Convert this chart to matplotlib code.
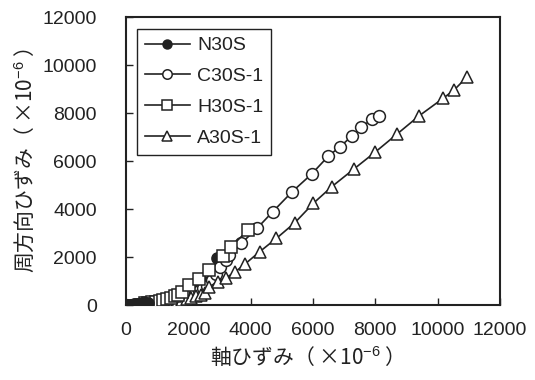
import matplotlib
matplotlib.use("Agg")
import matplotlib.pyplot as plt
from matplotlib import font_manager as fm

names = {f.name for f in fm.fontManager.ttflist}
NUM_FONT = "Liberation Sans Narrow" if "Liberation Sans Narrow" in names else "Liberation Sans"
JP_FONT = "Noto Sans CJK JP"

plt.rcParams["mathtext.fontset"] = "custom"
plt.rcParams["mathtext.rm"] = "Liberation Sans"
plt.rcParams["mathtext.it"] = "Liberation Sans"
plt.rcParams["mathtext.bf"] = "Liberation Sans"

# ---- data ----
series_labels = ["N30S", "C30S-1", "H30S-1", "A30S-1"]

n30s_x = [0, 40, 80, 120, 160, 200, 250, 300, 350, 400, 450, 500, 550, 600, 650]
n30s_y = [0, 3, 6, 10, 14, 18, 24, 30, 36, 42, 50, 58, 66, 74, 82]
n30s_hi_x = [700, 1000, 1400, 1800, 2200, 2500, 2750, 2914]
n30s_hi_y = [90, 130, 220, 380, 640, 950, 1400, 1972]

c30s_x = [650, 780, 910, 1040, 1170, 1300, 1430, 1560, 1690, 1820, 1950,
          2080, 2210, 2340, 2470, 2600, 2750, 2880, 3000, 3194, 3300, 3699, 4204, 4710, 5333,
          5958, 6495, 6871, 7248, 7538, 7893, 8107]
c30s_y = [50, 68, 88, 110, 135, 165, 200, 240, 285, 335, 390,
          450, 520, 600, 690, 800, 1050, 1300, 1597, 1875, 2083, 2569, 3194, 3889, 4722,
          5458, 6208, 6597, 7042, 7403, 7736, 7875]

h30s_x = [600, 720, 840, 960, 1080, 1200, 1320, 1440, 1560, 1680,
          1800, 2032, 2355, 2677, 3100, 3376, 3914]
h30s_y = [65, 90, 115, 145, 180, 220, 260, 310, 365, 430,
          560, 833, 1083, 1458, 2050, 2431, 3125]

a30s_x = [750, 900, 1050, 1200, 1350, 1500, 1650, 1800, 1950, 2100,
          2250, 2400, 2550, 2677, 2946, 3215, 3484, 3806, 4290, 4828, 5419, 6010, 6602, 7301,
          8000, 8699, 9398, 10172, 10527, 10950]
a30s_y = [50, 65, 85, 105, 130, 155, 185, 220, 260, 305,
          355, 420, 520, 764, 972, 1139, 1361, 1694, 2222, 2778, 3430, 4236, 4930, 5654,
          6375, 7125, 7875, 8610, 8958, 9513]

x_ticks = [0, 2000, 4000, 6000, 8000, 10000, 12000]
y_ticks = [0, 2000, 4000, 6000, 8000, 10000, 12000]
x_label = "軸ひずみ（ ×10$^{-6}$ ）"
y_label = "周方向ひずみ（ ×10$^{-6}$ ）"

# ---- plot ----
INK = "#222222"
fig = plt.figure(figsize=(5.35, 3.8), dpi=100)
ax = fig.add_axes([126 / 535, 1 - 305 / 380, (500 - 126) / 535, (305 - 17) / 380])

common = dict(color=INK, lw=1.2, mew=1.1, mec=INK)
# N30S: the part of the curve hidden under the other series, then the visible cluster at the origin
ax.plot(n30s_hi_x, n30s_hi_y, marker="o", ms=8, mfc=INK, zorder=2, **common)
ax.plot(n30s_x + n30s_hi_x[:1], n30s_y + n30s_hi_y[:1], marker="o", ms=8, mfc=INK,
        label=series_labels[0], zorder=5, **common)
ax.plot(c30s_x, c30s_y, marker="o", ms=8.5, mfc="white", label=series_labels[1], zorder=3, **common)
ax.plot(h30s_x, h30s_y, marker="s", ms=8.5, mfc="white", label=series_labels[2], zorder=4, **common)
ax.plot(a30s_x, a30s_y, marker="^", ms=9, mfc="white", label=series_labels[3], zorder=3, **common)

ax.set_xlim(0, 12000)
ax.set_ylim(0, 12000)
ax.set_xticks(x_ticks)
ax.set_yticks(y_ticks)
for s in ax.spines.values():
    s.set_linewidth(1.5)
    s.set_color(INK)
ax.tick_params(axis="both", direction="in", length=5, width=1.0, color=INK,
               labelsize=14, labelcolor=INK)
ax.tick_params(axis="y", pad=21)
ax.tick_params(axis="x", pad=12)
for lab in ax.get_xticklabels() + ax.get_yticklabels():
    lab.set_fontfamily(NUM_FONT)

ax.set_xlabel(x_label, fontsize=15, family=[JP_FONT, "DejaVu Sans"], color=INK)
ax.set_ylabel(y_label, fontsize=15, family=[JP_FONT, "DejaVu Sans"], color=INK)
ax.xaxis.set_label_coords((302 - 126) / 374, (305 - 357) / 288)
ax.yaxis.set_label_coords((25 - 126) / 374, 0.5)
ax.xaxis.label.set_va("center")
ax.yaxis.label.set_va("center")

leg = ax.legend(loc="upper left", bbox_to_anchor=((137 - 126) / 374, (305 - 29) / 288),
                borderaxespad=0, fancybox=False, framealpha=1, edgecolor=INK,
                prop={"family": NUM_FONT, "size": 14}, handlelength=2.3, handletextpad=0.4,
                labelspacing=0.68, borderpad=0.4, markerscale=0.8)
leg.get_frame().set_linewidth(1.0)
for t in leg.get_texts():
    t.set_color(INK)

fig.savefig("out.png", dpi=100)
